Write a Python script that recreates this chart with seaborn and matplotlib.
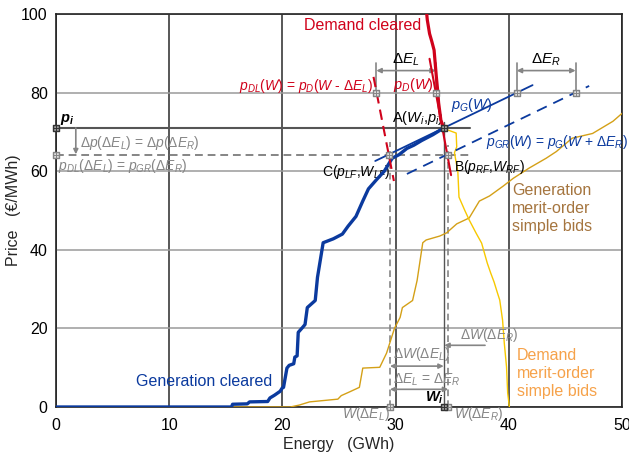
import matplotlib
matplotlib.use("Agg")
import matplotlib.pyplot as plt
import seaborn as sns
import pandas as pd

# ---------------- data ----------------
x_ticks = [0, 10, 20, 30, 40, 50]
y_ticks = [0, 20, 40, 60, 80, 100]

gen_cleared_W = [0, 15.5, 15.6, 16.9, 17.1, 18.7, 18.9, 19.3, 19.8, 20.0, 20.1, 20.4, 20.6, 21.0,
                 21.1, 21.3, 21.4, 21.8, 22.0, 22.2, 22.9, 23.1, 23.6, 24.5, 25.3, 25.8, 26.5, 27.1,
                 27.6, 28.3, 29.0, 29.7, 30.3, 31.0, 31.6, 32.3, 33.3, 34.25]
gen_cleared_p = [0, 0, 0.7, 0.8, 1.3, 1.4, 2.3, 3.0, 4.0, 4.9, 5.0, 9.9, 10.6, 11.0,
                 12.7, 13.0, 19.0, 20.3, 21.0, 25.3, 27.1, 33.0, 41.8, 42.8, 44.0, 46.0, 48.5, 52.4,
                 55.5, 57.8, 60.0, 63.3, 64.2, 65.8, 66.6, 67.8, 69.3, 71.0]

dem_cleared_W = [32.75, 32.8, 33.0, 33.2, 33.4, 33.6, 33.7, 33.8, 34.0, 34.25]
dem_cleared_p = [100, 98.5, 95.0, 93.0, 90.8, 84.0, 81.0, 77.4, 73.0, 71.0]

gen_merit_W = [15.6, 20.7, 21.5, 22.4, 24.9, 25.2, 25.9, 26.8, 27.1, 28.6, 29.2, 29.9, 30.4, 30.6,
               31.5, 31.9, 32.4, 32.7, 33.9, 34.5, 35.4, 36.5, 37.4, 38.3, 39.5, 40.4, 41.8, 43.3,
               44.2, 45.6, 47.4, 49.2, 50.2]
gen_merit_p = [0, 0, 0.5, 1.3, 2.0, 2.9, 3.8, 5.0, 9.9, 10.1, 13.7, 20.0, 22.8, 25.3,
               27.1, 32.2, 41.8, 42.5, 43.5, 44.3, 46.6, 48.1, 52.4, 53.7, 56.2, 58.2, 60.8, 63.3,
               65.0, 68.4, 69.6, 72.7, 75.2]

dem_merit_W = [34.25, 34.6, 35.35, 35.4, 35.2, 35.5, 35.6, 36.1, 36.5, 37.1, 37.6, 38.1, 38.4,
               38.7, 39.0, 39.2, 39.45, 39.6, 39.8, 39.9, 40.05]
dem_merit_p = [71.0, 70.5, 69.7, 66.2, 64.7, 59.8, 53.4, 50.1, 47.6, 44.3, 41.7, 36.6, 34.1,
               31.8, 29.0, 27.2, 22.1, 16.3, 10.2, 3.6, 0]

pD_W = [33.0, 34.9]
pD_p = [88.6, 59.0]
pDL_W = [28.05, 29.85]
pDL_p = [84.0, 57.5]
pG_W = [28.2, 42.1]
pG_p = [62.6, 81.9]
pGR_W = [31.0, 47.1]
pGR_p = [59.3, 81.7]

W_i, p_i = 34.25, 71.0
W_L, W_R = 29.5, 34.65
p_f = 64.0
dEL_W = [28.3, 33.55]
dER_W = [40.7, 45.9]
ref_p = 80

# ---------------- style ----------------
sns.set_theme(style="white")
plt.rcParams['font.family'] = ['Liberation Sans', 'DejaVu Sans']
plt.rcParams['mathtext.fontset'] = 'custom'
plt.rcParams['mathtext.rm'] = 'Liberation Sans'
plt.rcParams['mathtext.it'] = 'Liberation Sans:italic'
plt.rcParams['mathtext.bf'] = 'Liberation Sans:bold:italic'

BLUE = '#0b3a9e'
RED = '#d0021b'
GOLD = '#d4a017'
YEL = '#f7c800'
GRAY = '#858585'
DARK = '#555555'
FS = 10

fig = plt.figure(figsize=(6.29, 4.57), dpi=100)
ax = fig.add_axes([56/629, 50/457, 566/629, 393/457])
ax.set_xlim(0, 50)
ax.set_ylim(0, 100)
ax.set_xticks(x_ticks)
ax.set_yticks(y_ticks)
ax.tick_params(length=0, labelsize=11.5, colors='black')
ax.tick_params(axis='x', pad=8)
ax.tick_params(axis='y', pad=6)
for s in ax.spines.values():
    s.set_color('#222222'); s.set_linewidth(1.2)
ax.xaxis.grid(True, color='#2a2a2a', lw=1.1)
ax.yaxis.grid(True, color='#9a9a9a', lw=1.1)
ax.set_axisbelow(True)
ax.set_xlabel("Energy   (GWh)", fontsize=11.5, labelpad=3)
ax.set_ylabel("Price   (€/MWh)", fontsize=11.5, labelpad=0)

# reference lines
ax.plot([0, 36.6], [p_i, p_i], color=DARK, lw=1.5, zorder=2)
ax.plot([0, 36.6], [p_f, p_f], color=GRAY, lw=1.4, ls=(0, (4, 2.5)), zorder=2)
ax.plot([W_i, W_i], [0, 72.6], color=DARK, lw=1.0, zorder=2)
ax.plot([W_L, W_L], [0, 67.4], color=GRAY, lw=1.2, ls=(0, (4, 2.5)), zorder=2)
ax.plot([W_R, W_R], [0, 66.7], color=GRAY, lw=1.2, ls=(0, (4, 2.5)), zorder=2)

# curves
sns.lineplot(x=gen_merit_W, y=gen_merit_p, sort=False, estimator=None, color=GOLD, lw=1.0, ax=ax, zorder=3)
sns.lineplot(x=dem_merit_W, y=dem_merit_p, sort=False, estimator=None, color=YEL, lw=1.0, ax=ax, zorder=3)
sns.lineplot(x=gen_cleared_W, y=gen_cleared_p, sort=False, estimator=None, color=BLUE, lw=2.4, ax=ax, zorder=4)
sns.lineplot(x=dem_cleared_W, y=dem_cleared_p, sort=False, estimator=None, color=RED, lw=2.3, ax=ax, zorder=4)
sns.lineplot(x=pD_W, y=pD_p, sort=False, estimator=None, color=RED, lw=1.5, ax=ax, zorder=4)
sns.lineplot(x=pDL_W, y=pDL_p, sort=False, estimator=None, color=RED, lw=1.5, ls=(0, (5, 3)), ax=ax, zorder=4)
sns.lineplot(x=pG_W, y=pG_p, sort=False, estimator=None, color=BLUE, lw=1.3, ax=ax, zorder=4)
sns.lineplot(x=pGR_W, y=pGR_p, sort=False, estimator=None, color=BLUE, lw=1.3, ls=(0, (6, 4)), ax=ax, zorder=4)

# dimension lines for delta E
for pair, lab in [(dEL_W, r"$\Delta E_L$"), (dER_W, r"$\Delta E_R$")]:
    for w in pair:
        ax.plot([w, w], [ref_p, 87.6], color=GRAY, lw=1.2, zorder=3)
    ax.annotate("", xy=(pair[0], 85.6), xytext=(pair[1], 85.6),
                arrowprops=dict(arrowstyle='<|-|>', color=GRAY, lw=1.2, mutation_scale=7, shrinkA=0, shrinkB=0))
    ax.text((pair[0] + pair[1]) / 2, 86.3, lab, ha='center', va='bottom', fontsize=11, color='black')

# markers
light_pts = pd.DataFrame({'W': [dEL_W[0], dEL_W[1], dER_W[0], dER_W[1], 29.45, 34.6, 0, W_L, W_R],
                          'p': [ref_p, ref_p, ref_p, ref_p, p_f, p_f, p_f, 0, 0]})
dark_pts = pd.DataFrame({'W': [W_i, 0, W_i], 'p': [p_i, p_i, 0]})
sns.scatterplot(data=light_pts, x='W', y='p', marker='s', s=20, facecolor='#dcdcdc', edgecolor=GRAY,
                linewidth=1.0, ax=ax, zorder=6, clip_on=False)
sns.scatterplot(data=light_pts, x='W', y='p', marker='+', s=14, color=GRAY,
                linewidth=0.7, ax=ax, zorder=7, clip_on=False)
sns.scatterplot(data=dark_pts, x='W', y='p', marker='s', s=20, facecolor='#9a9a9a', edgecolor='#333333',
                linewidth=1.0, ax=ax, zorder=6, clip_on=False)
sns.scatterplot(data=dark_pts, x='W', y='p', marker='+', s=14, color='#333333',
                linewidth=0.7, ax=ax, zorder=7, clip_on=False)

# text labels
ax.text(21.9, 97.0, "Demand cleared", color=RED, fontsize=11.5, va='center')
ax.text(7.1, 6.6, "Generation cleared", color=BLUE, fontsize=11.5, va='center')
ax.text(40.3, 50.5, "Generation\nmerit-order\nsimple bids", color='#a5753f', fontsize=11.5,
        va='center', linespacing=1.25)
ax.text(40.7, 8.4, "Demand\nmerit-order\nsimple bids", color='#f6a24a', fontsize=11.5,
        va='center', linespacing=1.25)

ax.text(16.2, 81.6, r"$p_{DL}(W)$ = $p_D(W$ - $\Delta E_L)$", color=RED, fontsize=FS, va='center')
ax.text(29.75, 81.9, r"$p_D(W)$", color=RED, fontsize=FS + 0.5, va='center')
ax.text(34.9, 76.8, r"$p_G(W)$", color=BLUE, fontsize=FS + 0.5, va='center')
ax.text(38.0, 67.4, r"$p_{GR}(W)$ = $p_G(W$ + $\Delta E_R)$", color=BLUE, fontsize=FS, va='center')
ax.text(29.7, 73.5, r"A($W_i$,$p_i$)", color='black', fontsize=FS + 0.5, va='center')
ax.text(23.5, 59.8, r"C($p_{LF}$,$W_{LF}$)", color='black', fontsize=FS, va='center')
ax.text(35.2, 61.0, r"B($p_{RF}$,$W_{RF}$)", color='black', fontsize=FS, va='center')

ax.text(0.35, 73.2, r"$\mathbf{p_i}$", color='black', fontsize=FS + 0.5, va='center')
ax.annotate("", xy=(1.75, 64.3), xytext=(1.75, 71.0),
            arrowprops=dict(arrowstyle='-|>', color=GRAY, lw=1.2, mutation_scale=7, shrinkA=0, shrinkB=0))
ax.text(2.1, 67.3, r"$\Delta p(\Delta E_L)$ = $\Delta p(\Delta E_R)$", color=GRAY, fontsize=FS, va='center')
ax.text(0.15, 61.4, r"$p_{DL}(\Delta E_L)$ = $p_{GR}(\Delta E_R)$", color=GRAY, fontsize=FS, va='center')

ax.text(35.7, 18.2, r"$\Delta W(\Delta E_R)$", color=GRAY, fontsize=FS, va='center')
ax.annotate("", xy=(34.3, 15.7), xytext=(37.9, 15.7),
            arrowprops=dict(arrowstyle='-|>', color=GRAY, lw=1.2, mutation_scale=7, shrinkA=0, shrinkB=0))
ax.text(29.8, 13.5, r"$\Delta W(\Delta E_L)$", color=GRAY, fontsize=FS, va='center')
ax.annotate("", xy=(W_L, 10.4), xytext=(W_i, 10.4),
            arrowprops=dict(arrowstyle='<|-|>', color=GRAY, lw=1.2, mutation_scale=7, shrinkA=0, shrinkB=0))
ax.text(29.8, 7.0, r"$\Delta E_L$ = $\Delta E_R$", color=GRAY, fontsize=FS, va='center')
ax.annotate("", xy=(W_L, 4.5), xytext=(W_R, 4.5),
            arrowprops=dict(arrowstyle='<|-|>', color=GRAY, lw=1.2, mutation_scale=7, shrinkA=0, shrinkB=0))
ax.text(32.6, 2.4, r"$\mathbf{W_i}$", color='black', fontsize=FS + 0.5, va='center')
ax.text(25.3, -1.9, r"$W(\Delta E_L)$", color=GRAY, fontsize=FS, va='center', clip_on=False)
ax.text(35.2, -1.9, r"$W(\Delta E_R)$", color=GRAY, fontsize=FS, va='center', clip_on=False)

fig.savefig("out.png", dpi=100)
